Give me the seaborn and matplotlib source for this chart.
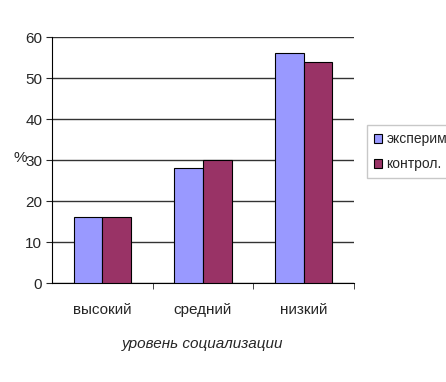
import pandas as pd
import matplotlib.pyplot as plt
import seaborn as sns
from matplotlib.ticker import FixedLocator

# данные
categories = ['высокий', 'средний', 'низкий']
series = ['эксперим', 'контрол.']
eksperim = [16, 28, 56]
kontrol = [16, 30, 54]

df = pd.DataFrame({
    'уровень': categories * 2,
    'группа': [series[0]] * 3 + [series[1]] * 3,
    'значение': eksperim + kontrol,
})

sns.set_style('white')
plt.rcParams['font.family'] = ['Liberation Sans', 'DejaVu Sans']

fig = plt.figure(figsize=(4.46, 3.82), dpi=100)
ax = fig.add_axes([0.1166, 0.259, 0.677, 0.644])

sns.barplot(data=df, x='уровень', y='значение', hue='группа',
            palette=['#9999FF', '#993366'], saturation=1, width=0.57,
            edgecolor='black', linewidth=0.8, ax=ax, zorder=3)

ax.set_ylim(0, 60)
ax.set_yticks(range(0, 61, 10))
ax.set_xlim(-0.5, 2.5)
ax.grid(axis='y', color='#333333', linewidth=1, zorder=0)
ax.set_axisbelow(True)

for s in ['top', 'right']:
    ax.spines[s].set_visible(False)
ax.spines['left'].set_color('black')
ax.spines['bottom'].set_color('black')

ax.tick_params(axis='y', length=4, direction='out', left=True, labelsize=11, pad=3)
ax.tick_params(axis='x', length=0, labelsize=11, pad=14)
ax.xaxis.set_minor_locator(FixedLocator([0.5, 1.5, 2.5]))
ax.tick_params(axis='x', which='minor', length=4, direction='out', bottom=True)

ax.set_xlabel('уровень социализации', fontsize=11, style='italic', labelpad=15)
ax.set_ylabel('%', fontsize=11, rotation=0, va='center', ha='center')
ax.yaxis.set_label_coords(-0.105, 0.51)

leg = ax.legend(loc='upper left', bbox_to_anchor=(1.02, 0.67), frameon=True,
                fontsize=10, handlelength=0.6, handleheight=0.6, handletextpad=0.3,
                borderpad=0.5, labelspacing=0.8, fancybox=False, edgecolor='#bbbbbb')
leg.set_title(None)

plt.savefig('out.png', dpi=100)
